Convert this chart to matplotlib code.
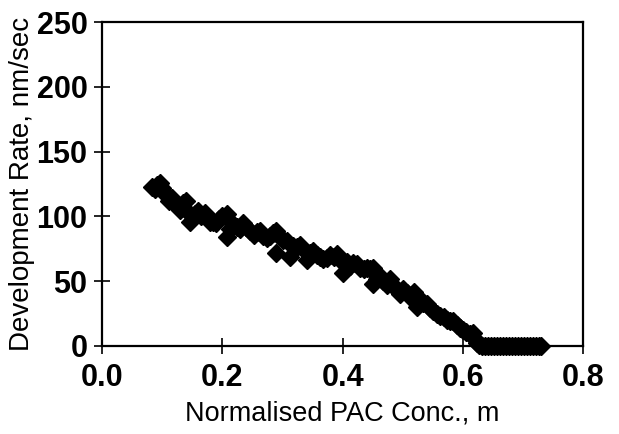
import matplotlib

matplotlib.use("Agg")
import matplotlib.pyplot as plt

# Normalised PAC concentration (m) and development rate (nm/sec)
pac_conc = [
    0.083, 0.088, 0.092, 0.096, 0.100, 0.104, 0.108, 0.112, 0.116, 0.120,
    0.125, 0.130, 0.135, 0.140, 0.141, 0.146, 0.150, 0.155, 0.160, 0.165,
    0.171, 0.176, 0.180, 0.185, 0.190, 0.195, 0.200, 0.207, 0.207, 0.212,
    0.218, 0.224, 0.230, 0.235, 0.240, 0.246, 0.252, 0.257, 0.263, 0.268,
    0.274, 0.279, 0.284, 0.290, 0.290, 0.296, 0.301, 0.307, 0.313, 0.318,
    0.324, 0.329, 0.335, 0.340, 0.346, 0.351, 0.357, 0.362, 0.368, 0.374,
    0.379, 0.385, 0.390, 0.396, 0.401, 0.407, 0.412, 0.418, 0.424, 0.429,
    0.435, 0.440, 0.446, 0.451, 0.451, 0.457, 0.462, 0.468, 0.473, 0.479,
    0.485, 0.490, 0.496, 0.501, 0.507, 0.512, 0.518, 0.523, 0.529, 0.534,
    0.540, 0.545, 0.551, 0.557, 0.562, 0.568, 0.573, 0.579, 0.584, 0.590,
    0.595, 0.601, 0.606, 0.612, 0.617, 0.620, 0.623, 0.627, 0.632, 0.637,
    0.642, 0.647, 0.652, 0.657, 0.662, 0.667, 0.672, 0.677, 0.682, 0.687,
    0.692, 0.697, 0.702, 0.707, 0.712, 0.717, 0.722, 0.727, 0.730,
]
dev_rate = [
    123, 121, 124, 126, 122, 118, 116, 112, 114, 110,
    108, 105, 110, 112, 104, 96, 100, 102, 104, 100,
    103, 98, 96, 96, 95, 98, 100, 102, 84, 90,
    94, 92, 90, 95, 92, 89, 86, 88, 89, 85,
    83, 85, 87, 89, 72, 84, 82, 81, 69, 77,
    76, 78, 74, 66, 72, 73, 70, 69, 67, 68,
    70, 69, 71, 66, 56, 65, 62, 64, 63, 60,
    59, 60, 59, 60, 48, 52, 54, 50, 47, 52,
    46, 43, 40, 44, 41, 38, 42, 30, 36, 33,
    32, 29, 27, 25, 23, 22, 20, 19, 19, 16,
    14, 12, 11, 9, 10, 5, 2, 1, 0, 0,
    0, 0, 0, 0, 0, 0, 0, 0, 0, 0,
    0, 0, 0, 0, 0, 0, 0, 0, 0,
]

x_ticks = [0.0, 0.2, 0.4, 0.6, 0.8]
y_ticks = [0, 50, 100, 150, 200, 250]

plt.rcParams["font.family"] = ["Liberation Sans", "DejaVu Sans"]

fig = plt.figure(figsize=(6.19, 4.34), dpi=100)
ax = fig.add_axes([0.165, 0.203, 0.777, 0.746])

ax.plot(pac_conc, dev_rate, linestyle="none", marker="D", ms=9.5,
        color="black", mec="black", clip_on=False)

ax.set_xlim(0.0, 0.8)
ax.set_ylim(0, 250)
ax.set_xticks(x_ticks)
ax.set_xticklabels([f"{v:.1f}" for v in x_ticks])
ax.set_yticks(y_ticks)
ax.tick_params(direction="inout", length=11, width=1.2, labelsize=22)
ax.tick_params(axis="x", pad=7)
ax.tick_params(axis="y", pad=5)
for lbl in ax.get_xticklabels() + ax.get_yticklabels():
    lbl.set_fontweight("bold")
for sp in ax.spines.values():
    sp.set_linewidth(1.6)

ax.set_xlabel("Normalised PAC Conc., m", fontsize=19.5, labelpad=5)
ax.set_ylabel("Development Rate, nm/sec", fontsize=20, labelpad=1)

fig.savefig("out.png", dpi=100)
